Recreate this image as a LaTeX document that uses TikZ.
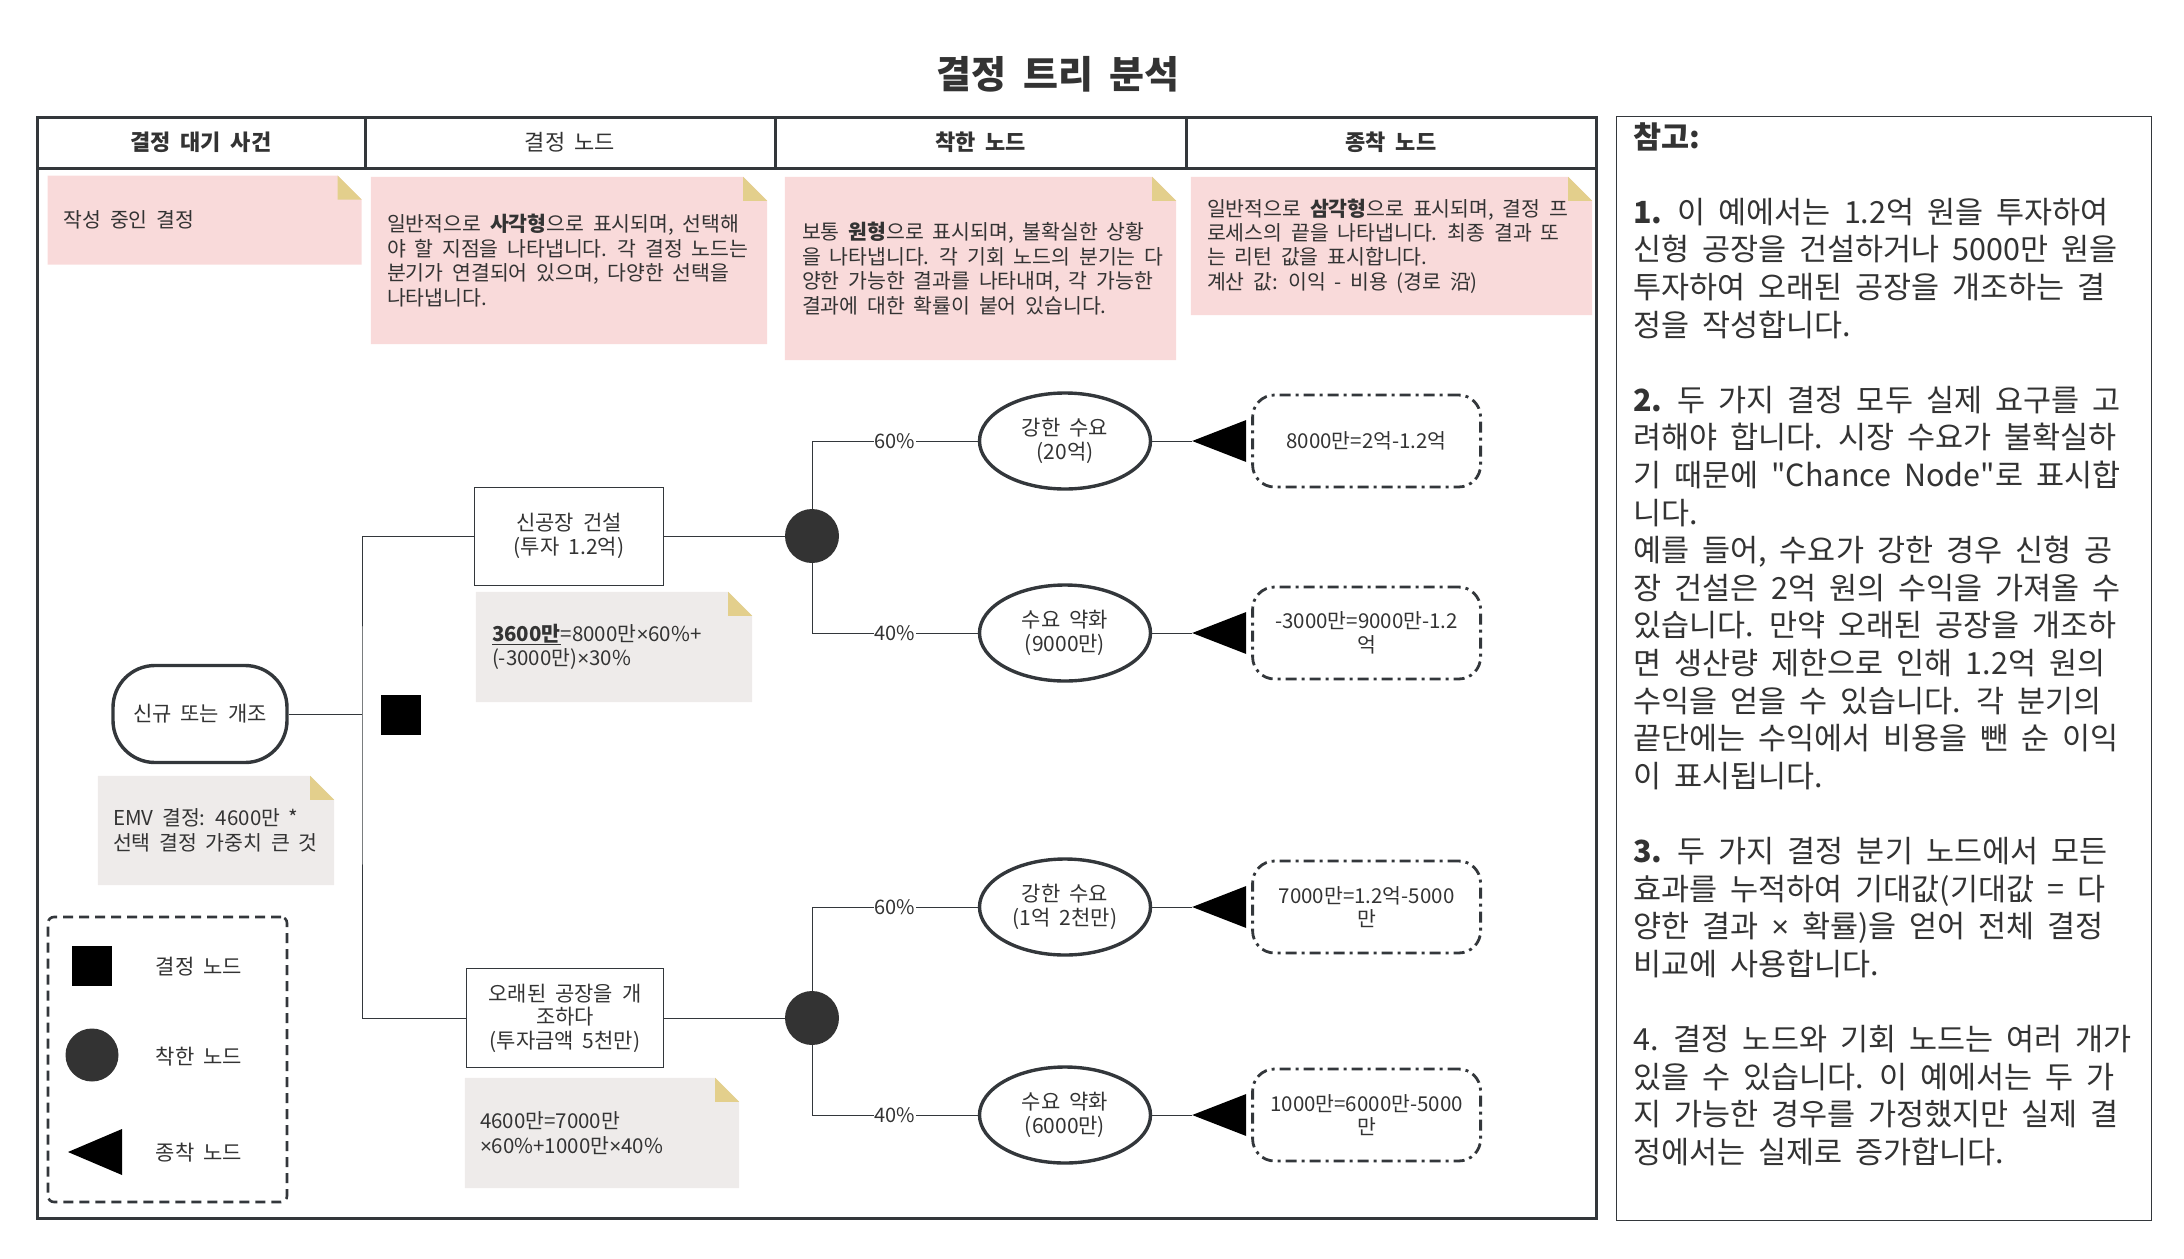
\documentclass[tikz,border=0pt]{standalone}
\usepackage{fontspec}
\setmainfont[WordSpace=1.9, Ligatures=TeXOff]{Noto Sans CJK KR}
\newfontfamily\latinsans{Liberation Sans}
\newcommand{\timesx}{{\latinsans ×}}
\usepackage{tikz}
\usetikzlibrary{shapes.geometric, positioning, calc}

\definecolor{inkline}{HTML}{33373B}
\definecolor{inktext}{HTML}{333333}
\definecolor{pinkfill}{HTML}{F9DADA}
\definecolor{grayfill}{HTML}{EEEBEA}
\definecolor{foldclr}{HTML}{E3CF8C}
\definecolor{chanceclr}{HTML}{333333}

\pgfdeclarelayer{bg}
\pgfsetlayers{bg,main}

% sticky note background with a folded top right corner
\newcommand{\foldnote}[2]{%
  \begin{pgfonlayer}{bg}
    \fill[#2] (#1.north west) -- ([xshift=-24pt]#1.north east) -- ([yshift=-24pt]#1.north east)
      -- (#1.south east) -- (#1.south west) -- cycle;
    \fill[foldclr] ([xshift=-24pt]#1.north east) -- ([yshift=-24pt]#1.north east)
      -- ([xshift=-24pt,yshift=-24pt]#1.north east) -- cycle;
  \end{pgfonlayer}}

\begin{document}
\begin{tikzpicture}[x=1pt, y=-1pt, line width=3pt,
        every node/.style={text=inktext},
        % Define styles for the nodes
        headcell/.style={draw=inkline, minimum height=51pt, font=\fontsize{22}{26}\selectfont},
        headbold/.style={headcell, font=\fontsize{22}{26}\selectfont\bfseries},
        notebox/.style={inner sep=0pt},
        notetext/.style={align=left, inner sep=0pt, font=\fontsize{20.5}{24.4}\selectfont},
        decision/.style={draw=inkline, align=center, minimum height=98pt, font=\fontsize{21}{23.5}\selectfont},
        startbox/.style={decision, line width=3.4pt, rounded corners=42pt, minimum width=174pt, minimum height=97pt},
        chance/.style={circle, fill=chanceclr, minimum size=54pt, inner sep=0pt},
        decsq/.style={fill=black, minimum size=40pt, inner sep=0pt},
        event/.style={ellipse, draw=inkline, line width=3.4pt, minimum width=171pt, minimum height=96pt, align=center, inner sep=0pt, font=\fontsize{21}{23.5}\selectfont},
        endtri/.style={isosceles triangle, isosceles triangle stretches, shape border rotate=180, fill=black, minimum width=42pt, minimum height=54pt, inner sep=0pt, outer sep=0pt, anchor=apex},
        outcome/.style={draw=inkline, line width=2.8pt, rounded corners=22pt, dash pattern=on 11pt off 5pt on 3pt off 5pt, minimum width=228pt, minimum height=92pt, align=center, inner sep=0pt, font=\fontsize{20.5}{23.5}\selectfont},
        link/.style={draw=inkline},
        pct/.style={fill=white, inner sep=1pt, font=\fontsize{20}{22}\selectfont},
        legtext/.style={font=\fontsize{21}{24}\selectfont},
        paneltext/.style={align=left, inner sep=0pt, font=\fontsize{30.5}{37.6}\selectfont}
    ]
    \useasboundingbox (0,0) rectangle (2184,1258);

    % === title and table frame ===
    \node[font=\fontsize{38}{44}\selectfont\bfseries] (title) at (1058,74) {결정 트리 분석};

    \node[headbold, minimum width=328pt] (hwait) at (201,142.5) {결정 대기 사건};
    \node[headcell, minimum width=410pt] (hdec) at (570,142.5) {결정 노드};
    \node[headbold, minimum width=411pt] (hchance) at (980.5,142.5) {착한 노드};
    \node[headbold, minimum width=410pt] (hend) at (1391,142.5) {종착 노드};
    \node[draw=inkline, minimum width=1559pt, minimum height=1050pt, inner sep=0pt] (board) at (816.5,693) {};

    % === description notes ===
    \node[notebox, minimum width=311pt, minimum height=86pt] (nwait) at (204.5,220) {};
    \foldnote{nwait}{pinkfill}
    \node[notetext, right=16pt of nwait.west] (nwaittxt) {작성 중인 결정};

    \node[notebox, minimum width=396pt, minimum height=167pt] (ndec) at (569,260.5) {};
    \foldnote{ndec}{pinkfill}
    \node[notetext, right=16pt of ndec.west] (ndectxt)
        {일반적으로 \textbf{사각형}으로 표시되며, 선택해\\야 할 지점을 나타냅니다. 각 결정 노드는\\분기가 연결되어 있으며, 다양한 선택을\\나타냅니다.};

    \node[notebox, minimum width=391pt, minimum height=183pt] (nchance) at (980.5,268.5) {};
    \foldnote{nchance}{pinkfill}
    \node[notetext, right=17pt of nchance.west] (nchancetxt)
        {보통 \textbf{원형}으로 표시되며, 불확실한 상황\\을 나타냅니다. 각 기회 노드의 분기는 다\\양한 가능한 결과를 나타내며, 각 가능한\\결과에 대한 확률이 붙어 있습니다.};

    \node[notebox, minimum width=401pt, minimum height=138pt] (nend) at (1391.5,246) {};
    \foldnote{nend}{pinkfill}
    \node[notetext, right=16pt of nend.west] (nendtxt)
        {일반적으로 \textbf{삼각형}으로 표시되며, 결정 프\\로세스의 끝을 나타냅니다. 최종 결과 또\\는 리턴 값을 표시합니다.\\계산 값: 이익 - 비용 (경로 沿)};

    % === decision tree ===
    \node[startbox] (start) at (200,714) {신규 또는 개조};
    \node[decsq] (dsq) at (401,715) {};
    \node[decision, minimum width=189pt] (newplant) at (569,536) {신공장 건설\\(투자 1.2억)};
    \node[decision, minimum width=197pt, minimum height=99pt] (oldplant) at (565,1018) {오래된 공장을 개\\조하다\\(투자금액 5천만)};

    \coordinate (split) at (362,714);
    \draw[link] (start.east) -- (split);
    \draw[link] (newplant.west) -| (split) |- (oldplant.west);

    \node[chance] (ch1) at (812,536) {};
    \node[chance] (ch2) at (812,1018) {};
    \draw[link] (newplant.east) -- (ch1.west);
    \draw[link] (oldplant.east) -- (ch2.west);

    \node[event] (e1) at (1065,441) {강한 수요\\(20억)};
    \node[event] (e2) at (1065,633) {수요 약화\\(9000만)};
    \node[event] (e3) at (1065,907) {강한 수요\\(1억 2천만)};
    \node[event] (e4) at (1065,1115) {수요 약화\\(6000만)};

    \draw[link] (ch1.north) |- node[pct, pos=0.75] {60\%} (e1.west);
    \draw[link] (ch1.south) |- node[pct, pos=0.75] {40\%} (e2.west);
    \draw[link] (ch2.north) |- node[pct, pos=0.75] {60\%} (e3.west);
    \draw[link] (ch2.south) |- node[pct, pos=0.75] {40\%} (e4.west);

    \node[endtri] (t1) at ([xshift=40pt]e1.east) {};
    \node[endtri] (t2) at ([xshift=40pt]e2.east) {};
    \node[endtri] (t3) at ([xshift=40pt]e3.east) {};
    \node[endtri] (t4) at ([xshift=40pt]e4.east) {};
    \draw[link] (e1.east) -- (t1.apex);
    \draw[link] (e2.east) -- (t2.apex);
    \draw[link] (e3.east) -- (t3.apex);
    \draw[link] (e4.east) -- (t4.apex);

    \node[outcome, right=99pt of e1] (o1) {8000만=2억-1.2억};
    \node[outcome, right=99pt of e2] (o2) {-3000만=9000만-1.2\\억};
    \node[outcome, right=99pt of e3] (o3) {7000만=1.2억-5000\\만};
    \node[outcome, right=99pt of e4] (o4) {1000만=6000만-5000\\만};

    % === value notes ===
    \node[notebox, minimum width=236pt, minimum height=109pt] (nemv) at (216,830.5) {};
    \foldnote{nemv}{grayfill}
    \node[notetext, right=15pt of nemv.west] (nemvtxt) {EMV 결정: 4600만 *\\선택 결정 가중치 큰 것};

    \node[notebox, minimum width=276pt, minimum height=110pt] (nnew) at (614,647) {};
    \foldnote{nnew}{grayfill}
    \node[notetext, right=16pt of nnew.west] (nnewtxt)
        {\underline{\textbf{3600만}}=8000만\timesx60\%+\\(-3000만)\timesx30\%};

    \node[notebox, minimum width=274pt, minimum height=110pt] (nold) at (602,1133) {};
    \foldnote{nold}{grayfill}
    \node[notetext, right=15pt of nold.west] (noldtxt)
        {4600만=7000만\\\timesx60\%+1000만\timesx40\%};

    % === legend ===
    \node[draw=inkline, line width=2.6pt, dash pattern=on 10pt off 6pt, rounded corners=6pt, minimum width=239pt, minimum height=285pt, inner sep=0pt] (legend) at (167.5,1059.5) {};
    \node[decsq] (legsq) at (92,966) {};
    \node[chance, minimum size=53pt] (legch) at (92,1055) {};
    \node[endtri, minimum width=46pt] (legtri) at (68,1152) {};
    \node[legtext] (legsqtxt) at (199,967) {결정 노드};
    \node[legtext] (legchtxt) at (199,1057) {착한 노드};
    \node[legtext] (legtritxt) at (199,1153) {종착 노드};

    % === reference panel ===
    \node[draw=inkline, minimum width=535pt, minimum height=1104pt, inner sep=0pt] (refpanel) at (1883.5,668) {};
    \node[paneltext, anchor=north west] (reftext) at (1633,122) {\spaceskip=0.48em\relax
        \textbf{참고:}\\[37.6pt]
        \textbf{1.} 이 예에서는 1.2억 원을 투자하여\\
        신형 공장을 건설하거나 5000만 원을\\
        투자하여 오래된 공장을 개조하는 결\\
        정을 작성합니다.\\[37.6pt]
        \textbf{2.} 두 가지 결정 모두 실제 요구를 고\\
        려해야 합니다. 시장 수요가 불확실하\\
        기 때문에 "Chance Node"로 표시합\\
        니다.\\
        예를 들어, 수요가 강한 경우 신형 공\\
        장 건설은 2억 원의 수익을 가져올 수\\
        있습니다. 만약 오래된 공장을 개조하\\
        면 생산량 제한으로 인해 1.2억 원의\\
        수익을 얻을 수 있습니다. 각 분기의\\
        끝단에는 수익에서 비용을 뺀 순 이익\\
        이 표시됩니다.\\[37.6pt]
        \textbf{3.} 두 가지 결정 분기 노드에서 모든\\
        효과를 누적하여 기대값(기대값 = 다\\
        양한 결과 \timesx{} 확률)을 얻어 전체 결정\\
        비교에 사용합니다.\\[37.6pt]
        4. 결정 노드와 기회 노드는 여러 개가\\
        있을 수 있습니다. 이 예에서는 두 가\\
        지 가능한 경우를 가정했지만 실제 결\\
        정에서는 실제로 증가합니다.};

\end{tikzpicture}
\end{document}
